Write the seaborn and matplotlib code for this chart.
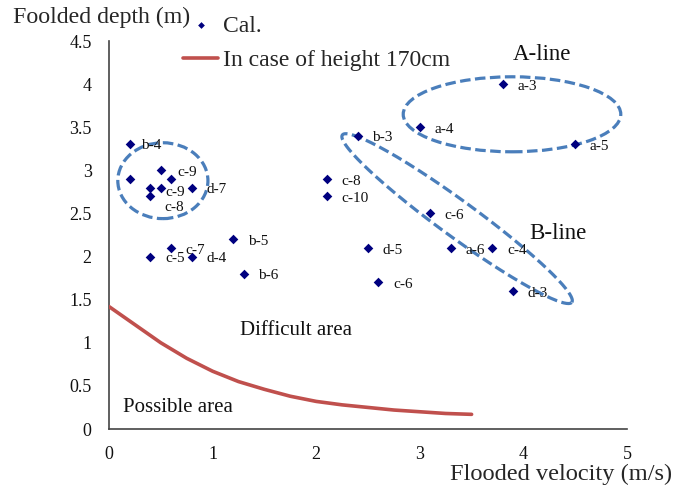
import numpy as np
import pandas as pd
import matplotlib
matplotlib.use("Agg")
import matplotlib.pyplot as plt
from matplotlib.patches import Ellipse
from matplotlib.ticker import FuncFormatter
import seaborn as sns

# ---------------- data ----------------
vel = [0.2, 0.2, 0.5, 0.6, 0.4, 0.5, 0.4, 0.8,
       0.4, 0.6, 0.8, 1.2, 1.3,
       2.4, 3.8, 3.0, 4.5, 2.1, 2.1, 3.1, 2.5, 3.3, 3.7, 2.6, 3.9]
depth = [3.3, 2.9, 3.0, 2.9, 2.8, 2.8, 2.7, 2.8,
         2.0, 2.1, 2.0, 2.2, 1.8,
         3.4, 4.0, 3.5, 3.3, 2.9, 2.7, 2.5, 2.1, 2.1, 2.1, 1.7, 1.6]
names = ["b-4", "", "c-9", "", "c-9", "", "c-8", "d-7",
         "c-5", "c-7", "d-4", "b-5", "b-6",
         "b-3", "a-3", "a-4", "a-5", "c-8", "c-10", "c-6", "d-5", "a-6", "c-4", "c-6", "d-3"]

curve_v = [0.0, 0.25, 0.5, 0.75, 1.0, 1.25, 1.5, 1.75, 2.0, 2.25, 2.5, 2.75, 3.0, 3.25, 3.5]
curve_d = [1.42, 1.21, 1.00, 0.82, 0.67, 0.55, 0.46, 0.38, 0.32, 0.28, 0.25, 0.22, 0.20, 0.18, 0.17]

x_ticks = [0, 1, 2, 3, 4, 5]
y_ticks = [0, 0.5, 1, 1.5, 2, 2.5, 3, 3.5, 4, 4.5]

pts = pd.DataFrame({"v": vel, "d": depth, "name": names})
crv = pd.DataFrame({"v": curve_v, "d": curve_d})

# ---------------- style ----------------
sns.set_style("white")
plt.rcParams["font.family"] = ["Liberation Serif", "DejaVu Serif"]

W, H = 6.78, 4.86
fig = plt.figure(figsize=(W, H), dpi=100)
L, R, B, T = 109 / 678, 627 / 678, 1 - 429 / 486, 1 - 41 / 486
ax = fig.add_axes([L, B, R - L, T - B])

navy = "#00007F"
red = "#C0504D"
blue = "#4A7EBB"

sns.lineplot(data=crv, x="v", y="d", ax=ax, color=red, lw=2.6,
             label="In case of height 170cm", legend=False, zorder=3)
sns.scatterplot(data=pts, x="v", y="d", ax=ax, marker="D", s=24, color=navy,
                edgecolor=navy, linewidth=0, label="Cal.", legend=False, zorder=4)

# label offsets in points (default: right of the marker)
label_offsets = {0: (8, -0.7), 2: (12, -1.5), 4: (10.8, -3.6), 6: (10, -8)}
for i, (v, d, n) in enumerate(zip(vel, depth, names)):
    if n:
        off = label_offsets.get(i, (10.5, -1.5))
        ax.annotate(n, (v, d), xytext=off, textcoords="offset points",
                    ha="left", va="center", fontsize=11, color="#111111", zorder=5)

ax.set_xlim(0, 5)
ax.set_ylim(0, 4.5)
ax.set_xticks(x_ticks)
ax.set_yticks(y_ticks)
fmt = FuncFormatter(lambda val, pos: f"{val:g}")
ax.xaxis.set_major_formatter(fmt)
ax.yaxis.set_major_formatter(fmt)
ax.tick_params(direction="inout", length=9, width=1.0, color="#333333",
               labelsize=13, pad=8, labelcolor="#111111")
ax.set_xlabel("")
ax.set_ylabel("")
for s in ["top", "right"]:
    ax.spines[s].set_visible(False)
for s in ["left", "bottom"]:
    ax.spines[s].set_color("#444444")
    ax.spines[s].set_linewidth(1.2)

# ellipses
sx = (R - L) * W * 100 / 5.0
sy = (T - B) * H * 100 / 4.5
dash = (0, (3.3, 1.4))
e1 = Ellipse((3.89, 3.65), 2.10, 0.87, fill=False, ec=blue, lw=2.3, ls=dash, zorder=2)
e2 = Ellipse((0.52, 2.88), 0.87, 0.88, fill=False, ec=blue, lw=2.3, ls=dash, zorder=2)
ax.add_patch(e1)
ax.add_patch(e2)
t = np.linspace(0, 2 * np.pi, 300)
a_px, b_px, ang = 142.0, 18.0, np.deg2rad(-36.1)
ex = a_px * np.cos(t) * np.cos(ang) - b_px * np.sin(t) * np.sin(ang)
ey = a_px * np.cos(t) * np.sin(ang) + b_px * np.sin(t) * np.cos(ang)
ax.plot(3.36 + ex / sx, 2.44 + ey / sy, color=blue, lw=2.3, ls=dash, zorder=2)

ax.text(3.9, 4.34, "A-line", fontsize=16.5, ha="left", va="center", color="#111111")
ax.text(4.06, 2.27, "B-line", fontsize=16.5, ha="left", va="center", color="#111111")
ax.text(1.265, 1.14, "Difficult area", fontsize=15, ha="left", va="center", color="#111111")
ax.text(0.135, 0.255, "Possible area", fontsize=15, ha="left", va="center", color="#111111")

fig.text(13 / 678, 1 - 17 / 486, "Foolded depth (m)", fontsize=17.2, ha="left", va="center")
fig.text(672 / 678, 1 - 474 / 486, "Flooded velocity (m/s)", fontsize=17.6, ha="right", va="center")

handles, labels = ax.get_legend_handles_labels()
order = [labels.index("Cal."), labels.index("In case of height 170cm")]
leg = ax.legend([handles[i] for i in order], [labels[i] for i in order],
                loc="upper left", bbox_to_anchor=(183 / 678, 1 - 15 / 486),
                bbox_transform=fig.transFigure, frameon=False, fontsize=17,
                handlelength=1.5, handletextpad=0.2, labelspacing=0.55,
                borderpad=0, borderaxespad=0, markerscale=0.7)

fig.savefig("out.png", dpi=100)
